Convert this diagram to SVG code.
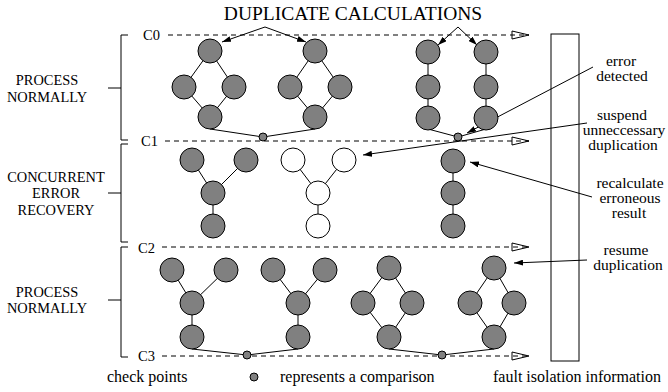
<svg xmlns="http://www.w3.org/2000/svg" width="668" height="392" viewBox="0 0 668 392">
  <style>
    text { font-family: "Liberation Serif", "Times New Roman", serif; fill: #000; }
    .title { font-size: 19.5px; text-anchor: middle; }
    .side { font-size: 14.4px; text-anchor: middle; }
    .cp { font-size: 14.5px; }
    .note { font-size: 15.5px; text-anchor: middle; }
    .leg { font-size: 16px; }
    .n { fill: #808080; stroke: #000; stroke-width: 1; }
    .w { fill: #fff; stroke: #000; stroke-width: 1; }
    .e { stroke: #000; stroke-width: 1; fill: none; }
    .dash { stroke: #000; stroke-width: 1; stroke-dasharray: 5 4; fill: none; marker-end: url(#open); }
    .ptr { stroke: #000; stroke-width: 1; fill: none; marker-end: url(#head); }
    .br { stroke: #000; stroke-width: 1; fill: none; }
    .dot { fill: #808080; stroke: #000; stroke-width: 1; }
  </style>
  <defs>
    <marker id="head" viewBox="0 0 9 6" refX="9" refY="3" markerWidth="9" markerHeight="6" markerUnits="userSpaceOnUse" orient="auto">
      <path d="M0,0 L9,3 L0,6 z" fill="#000"/>
    </marker>
    <marker id="open" viewBox="-1 -1 19 10" refX="17" refY="4" markerWidth="19" markerHeight="10" markerUnits="userSpaceOnUse" orient="auto">
      <path d="M0,0 L17,4 L0,8 z" fill="none" stroke="#000" stroke-width="1" stroke-dasharray="none"/>
    </marker>
  </defs>

  <!-- title -->
  <text class="title" x="353" y="20">DUPLICATE CALCULATIONS</text>

  <!-- phase brackets and labels -->
  <g id="phase1">
    <path class="br" d="M128,35 H121 V140 H128 M108,88 H121"/>
    <text class="side" x="47" y="85">PROCESS</text>
    <text class="side" x="47" y="102">NORMALLY</text>
  </g>
  <g id="phase2">
    <path class="br" d="M128,144 H121 V242 H128 M108,193 H121"/>
    <text class="side" x="56" y="182">CONCURRENT</text>
    <text class="side" x="56" y="198">ERROR</text>
    <text class="side" x="56" y="215">RECOVERY</text>
  </g>
  <g id="phase3">
    <path class="br" d="M128,247 H121 V357 H128 M108,300 H121"/>
    <text class="side" x="47" y="297">PROCESS</text>
    <text class="side" x="47" y="313">NORMALLY</text>
  </g>

  <!-- check point lines -->
  <g id="checkpoints">
    <text class="cp" x="143" y="40">C0</text>
    <text class="cp" x="141" y="146">C1</text>
    <text class="cp" x="138" y="253">C2</text>
    <text class="cp" x="138" y="361">C3</text>
  </g>

  <!-- fault isolation store -->
  <g id="fault-isolation">
    <rect x="551" y="34" width="28" height="327" fill="none" stroke="#000" stroke-width="1"/>
  </g>

  <!-- connectors -->
  <g id="connectors">
    <path class="dash" d="M168,35 H529"/>
    <path class="dash" d="M165,141 H529"/>
    <path class="dash" d="M162,247 H529"/>
    <path class="dash" d="M162,356 H529"/>

    <!-- duplicate-calculation pointers -->
    <path class="ptr" d="M265,27 L222,42"/>
    <path class="ptr" d="M265,27 L306,42"/>
    <path class="ptr" d="M458,27 L438,45"/>
    <path class="ptr" d="M458,27 L477,45"/>

    <!-- row 1 edges -->
    <path class="e" d="M210,51 L184,87 L210,117 L234,87 Z"/>
    <path class="e" d="M315,51 L290,87 L315,117 L340,87 Z"/>
    <path class="e" d="M428,52 V118 M486,52 V118"/>
    <path class="e" d="M210,129 L263,137 L315,129"/>
    <path class="e" d="M428,129 L458,137 L486,129"/>

    <!-- row 2 edges -->
    <path class="e" d="M192,160 L213,193 L246,160 M213,193 V226"/>
    <path class="e" d="M293,160 L318,193 L344,160 M318,193 V226"/>
    <path class="e" d="M453,161 V226"/>

    <!-- row 3 edges -->
    <path class="e" d="M172,270 L192,303 L226,270 M192,303 V337"/>
    <path class="e" d="M273,270 L298,303 L325,270 M298,303 V337"/>
    <path class="e" d="M389,268 L363,303 L389,337 L412,303 Z"/>
    <path class="e" d="M494,268 L470,303 L494,337 L514,303 Z"/>
    <path class="e" d="M192,349 L247,355 L298,349"/>
    <path class="e" d="M389,349 L442,355 L494,349"/>

    <!-- annotation pointers -->
    <path class="ptr" d="M593,67 L467,133"/>
    <path class="ptr" d="M587,123 L363,155"/>
    <path class="ptr" d="M592,197 L470,162"/>
    <path class="ptr" d="M587,260 L514,263"/>
  </g>

  <!-- row 1: duplicated calculations -->
  <g id="calc-a1">
    <circle class="n" cx="210" cy="51" r="12"/>
    <circle class="n" cx="184" cy="87" r="12"/>
    <circle class="n" cx="234" cy="87" r="12"/>
    <circle class="n" cx="210" cy="117" r="12"/>
  </g>
  <g id="calc-a2">
    <circle class="n" cx="315" cy="51" r="12"/>
    <circle class="n" cx="290" cy="87" r="12"/>
    <circle class="n" cx="340" cy="87" r="12"/>
    <circle class="n" cx="315" cy="117" r="12"/>
  </g>
  <g id="calc-b1">
    <circle class="n" cx="428" cy="52" r="12"/>
    <circle class="n" cx="428" cy="87" r="12"/>
    <circle class="n" cx="428" cy="118" r="12"/>
  </g>
  <g id="calc-b2">
    <circle class="n" cx="486" cy="52" r="12"/>
    <circle class="n" cx="486" cy="87" r="12"/>
    <circle class="n" cx="486" cy="118" r="12"/>
  </g>
  <g id="cmp-1a"><circle class="dot" cx="263" cy="137" r="4"/></g>
  <g id="cmp-1b"><circle class="dot" cx="458" cy="137" r="4"/></g>

  <!-- row 2: concurrent error recovery -->
  <g id="calc-c1">
    <circle class="n" cx="192" cy="160" r="12"/>
    <circle class="n" cx="246" cy="160" r="12"/>
    <circle class="n" cx="213" cy="193" r="12"/>
    <circle class="n" cx="213" cy="226" r="12"/>
  </g>
  <g id="calc-c2">
    <circle class="w" cx="293" cy="160" r="12"/>
    <circle class="w" cx="344" cy="160" r="12"/>
    <circle class="w" cx="318" cy="193" r="12"/>
    <circle class="w" cx="318" cy="226" r="12"/>
  </g>
  <g id="calc-d">
    <circle class="n" cx="453" cy="161" r="12"/>
    <circle class="n" cx="453" cy="193" r="12"/>
    <circle class="n" cx="453" cy="226" r="12"/>
  </g>

  <!-- row 3: duplicated calculations resumed -->
  <g id="calc-e1">
    <circle class="n" cx="172" cy="270" r="12"/>
    <circle class="n" cx="226" cy="270" r="12"/>
    <circle class="n" cx="192" cy="303" r="12"/>
    <circle class="n" cx="192" cy="337" r="12"/>
  </g>
  <g id="calc-e2">
    <circle class="n" cx="273" cy="270" r="12"/>
    <circle class="n" cx="325" cy="270" r="12"/>
    <circle class="n" cx="298" cy="303" r="12"/>
    <circle class="n" cx="298" cy="337" r="12"/>
  </g>
  <g id="calc-f1">
    <circle class="n" cx="389" cy="268" r="12"/>
    <circle class="n" cx="363" cy="303" r="12"/>
    <circle class="n" cx="412" cy="303" r="12"/>
    <circle class="n" cx="389" cy="337" r="12"/>
  </g>
  <g id="calc-f2">
    <circle class="n" cx="494" cy="268" r="12"/>
    <circle class="n" cx="470" cy="303" r="12"/>
    <circle class="n" cx="514" cy="303" r="12"/>
    <circle class="n" cx="494" cy="337" r="12"/>
  </g>
  <g id="cmp-3a"><circle class="dot" cx="247" cy="355" r="4"/></g>
  <g id="cmp-3b"><circle class="dot" cx="442" cy="355" r="4"/></g>

  <!-- annotations -->
  <g id="note-error">
    <text class="note" x="621" y="66">error</text>
    <text class="note" x="622" y="81">detected</text>
  </g>
  <g id="note-suspend">
    <text class="note" x="622" y="120">suspend</text>
    <text class="note" x="624" y="135">unneccessary</text>
    <text class="note" x="623" y="150">duplication</text>
  </g>
  <g id="note-recalc">
    <text class="note" x="630" y="188">recalculate</text>
    <text class="note" x="630" y="203">erroneous</text>
    <text class="note" x="629" y="218">result</text>
  </g>
  <g id="note-resume">
    <text class="note" x="626" y="255">resume</text>
    <text class="note" x="628" y="270">duplication</text>
  </g>

  <!-- legend -->
  <g id="legend">
    <text class="leg" x="107" y="382">check points</text>
    <circle class="dot" cx="254" cy="377" r="4"/>
    <text class="leg" x="280" y="382">represents a comparison</text>
    <text class="leg" x="493" y="382">fault isolation information</text>
  </g>
</svg>
